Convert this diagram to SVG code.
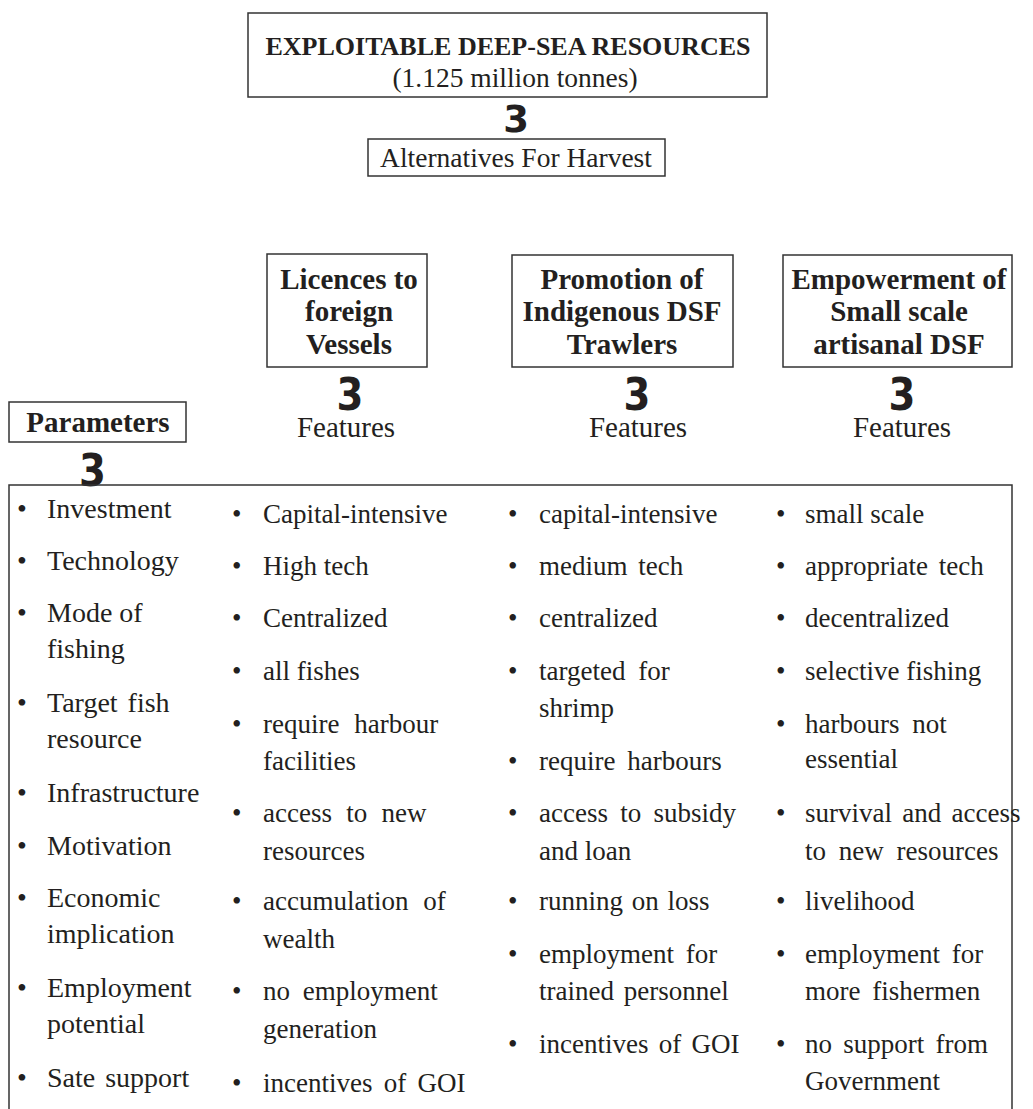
<svg xmlns="http://www.w3.org/2000/svg" width="1033" height="1109" viewBox="0 0 1033 1109">
<style>
.box{fill:none;stroke:#333;stroke-width:1.5}
.t{font-family:"Liberation Serif","Times New Roman",serif;fill:#231f20}
.b{font-weight:bold}
.c{text-anchor:middle}
.h{font-size:29px}
.li{font-family:"Liberation Serif","Times New Roman",serif;font-size:27px;fill:#231f20}
#col-parameters .li{font-size:28px}
.arr{font-family:"DejaVu Sans",sans-serif;font-weight:bold;fill:#231f20;text-anchor:middle}
</style>
<rect width="1033" height="1109" fill="#fff"/>
<g id="title">
<rect class="box" x="248" y="13" width="519" height="84"/>
<text class="t b c" x="508" y="55" font-size="26">EXPLOITABLE DEEP-SEA RESOURCES</text>
<text class="t c" x="515" y="87" font-size="27.5">(1.125 million tonnes)</text>
</g>
<g id="alternatives">
<rect class="box" x="368" y="139" width="297" height="37"/>
<text class="t c" x="516" y="167" font-size="27.5">Alternatives For Harvest</text>
</g>
<g id="licences">
<rect class="box" x="267" y="254" width="160" height="113"/>
<text class="t b c h" x="349" y="289">Licences to</text>
<text class="t b c h" x="349" y="321">foreign</text>
<text class="t b c h" x="349" y="354">Vessels</text>
<text class="t c" x="346" y="437" font-size="29">Features</text>
</g>
<g id="promotion">
<rect class="box" x="512" y="255" width="221" height="112"/>
<text class="t b c h" x="622" y="289">Promotion of</text>
<text class="t b c h" x="622" y="321">Indigenous DSF</text>
<text class="t b c h" x="622" y="354">Trawlers</text>
<text class="t c" x="638" y="437" font-size="29">Features</text>
</g>
<g id="empowerment">
<rect class="box" x="783" y="255" width="229" height="112"/>
<text class="t b c h" x="899" y="289">Empowerment of</text>
<text class="t b c h" x="899" y="321">Small scale</text>
<text class="t b c h" x="899" y="354">artisanal DSF</text>
<text class="t c" x="902" y="437" font-size="29">Features</text>
</g>
<g id="parameters">
<rect class="box" x="9" y="402" width="177" height="40"/>
<text class="t b c h" x="98" y="432">Parameters</text>
</g>
<g id="connectors">
<text class="arr" x="516" y="132" font-size="37">3</text>
<text class="arr" font-size="45" transform="translate(350,410) scale(0.86,1)">3</text>
<text class="arr" font-size="45" transform="translate(637,410) scale(0.86,1)">3</text>
<text class="arr" font-size="45" transform="translate(902,410) scale(0.86,1)">3</text>
<text class="arr" font-size="45" transform="translate(92.5,486) scale(0.86,1)">3</text>
</g>
<g id="table">
<path class="box" d="M9,1109 V485 H1012 V1109"/>
<g id="col-parameters">
<text class="li" x="17" y="518">•</text><text class="li" x="47" y="518">Investment</text>
<text class="li" x="17" y="570">•</text><text class="li" x="47" y="570">Technology</text>
<text class="li" x="17" y="622">•</text><text class="li" x="47" y="622">Mode of</text>
<text class="li" x="47" y="658">fishing</text>
<text class="li" x="17" y="712">•</text><text class="li" x="47" y="712" word-spacing="3">Target fish</text>
<text class="li" x="47" y="748">resource</text>
<text class="li" x="17" y="802">•</text><text class="li" x="47" y="802">Infrastructure</text>
<text class="li" x="17" y="855">•</text><text class="li" x="47" y="855">Motivation</text>
<text class="li" x="17" y="907">•</text><text class="li" x="47" y="907">Economic</text>
<text class="li" x="47" y="943">implication</text>
<text class="li" x="17" y="997">•</text><text class="li" x="47" y="997">Employment</text>
<text class="li" x="47" y="1033">potential</text>
<text class="li" x="17" y="1087">•</text><text class="li" x="47" y="1087" word-spacing="3">Sate support</text>
</g>
<g id="col-licences">
<text class="li" x="232" y="523">•</text><text class="li" x="263" y="523">Capital-intensive</text>
<text class="li" x="232" y="575">•</text><text class="li" x="263" y="575">High tech</text>
<text class="li" x="232" y="627">•</text><text class="li" x="263" y="627">Centralized</text>
<text class="li" x="232" y="680">•</text><text class="li" x="263" y="680">all fishes</text>
<text class="li" x="232" y="733">•</text><text class="li" x="263" y="733" word-spacing="8">require harbour</text>
<text class="li" x="263" y="770">facilities</text>
<text class="li" x="232" y="822">•</text><text class="li" x="263" y="822" word-spacing="7.5">access to new</text>
<text class="li" x="263" y="860">resources</text>
<text class="li" x="232" y="910">•</text><text class="li" x="263" y="910" word-spacing="8">accumulation of</text>
<text class="li" x="263" y="948">wealth</text>
<text class="li" x="232" y="1000">•</text><text class="li" x="263" y="1000" word-spacing="6">no employment</text>
<text class="li" x="263" y="1038">generation</text>
<text class="li" x="232" y="1092">•</text><text class="li" x="263" y="1092" word-spacing="4.5">incentives of GOI</text>
</g>
<g id="col-promotion">
<text class="li" x="508" y="523">•</text><text class="li" x="539" y="523">capital-intensive</text>
<text class="li" x="508" y="575">•</text><text class="li" x="539" y="575" word-spacing="4">medium tech</text>
<text class="li" x="508" y="627">•</text><text class="li" x="539" y="627">centralized</text>
<text class="li" x="508" y="680">•</text><text class="li" x="539" y="680" word-spacing="6">targeted for</text>
<text class="li" x="539" y="717">shrimp</text>
<text class="li" x="508" y="770">•</text><text class="li" x="539" y="770" word-spacing="5">require harbours</text>
<text class="li" x="508" y="822">•</text><text class="li" x="539" y="822" word-spacing="5.5">access to subsidy</text>
<text class="li" x="539" y="860">and loan</text>
<text class="li" x="508" y="910">•</text><text class="li" x="539" y="910" word-spacing="2">running on loss</text>
<text class="li" x="508" y="963">•</text><text class="li" x="539" y="963" word-spacing="5">employment for</text>
<text class="li" x="539" y="1000" word-spacing="3">trained personnel</text>
<text class="li" x="508" y="1053">•</text><text class="li" x="539" y="1053" word-spacing="3.5">incentives of GOI</text>
</g>
<g id="col-empowerment">
<text class="li" x="776" y="523">•</text><text class="li" x="805" y="523">small scale</text>
<text class="li" x="776" y="575">•</text><text class="li" x="805" y="575" word-spacing="4">appropriate tech</text>
<text class="li" x="776" y="627">•</text><text class="li" x="805" y="627">decentralized</text>
<text class="li" x="776" y="680">•</text><text class="li" x="805" y="680">selective fishing</text>
<text class="li" x="776" y="733">•</text><text class="li" x="805" y="733" word-spacing="6">harbours not</text>
<text class="li" x="805" y="768">essential</text>
<text class="li" x="776" y="822">•</text><text class="li" x="805" y="822" word-spacing="3.5">survival and access</text>
<text class="li" x="805" y="860" word-spacing="6">to new resources</text>
<text class="li" x="776" y="910">•</text><text class="li" x="805" y="910">livelihood</text>
<text class="li" x="776" y="963">•</text><text class="li" x="805" y="963" word-spacing="5">employment for</text>
<text class="li" x="805" y="1000" word-spacing="5">more fishermen</text>
<text class="li" x="776" y="1053">•</text><text class="li" x="805" y="1053" word-spacing="4.5">no support from</text>
<text class="li" x="805" y="1090">Government</text>
</g>
</g>
</svg>
